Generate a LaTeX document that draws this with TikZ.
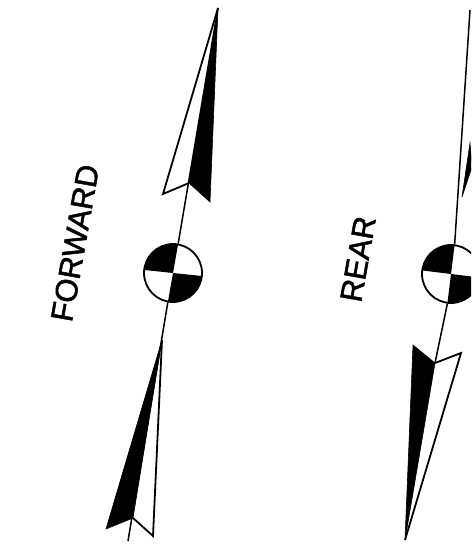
\documentclass[tikz,border=0pt]{standalone}
\usepackage{fontspec}
\setmainfont[FakeBold=1.6]{Liberation Sans}
\tikzset{
  px/.style={x=1pt,y=-1pt},
  axisline/.style={line width=1.5pt,black},
  outline/.style={line width=1.8pt,black,line join=miter,miter limit=3},
  solid fill/.style={fill=black,draw=black,line width=.6pt,line join=miter},
  ring/.style={circle,draw=black,line width=1.8pt,minimum size=58pt,inner sep=0pt},
  caption/.style={font=\fontsize{31}{34}\selectfont,inner sep=0pt,rotate=80},
}
\begin{document}
\begin{tikzpicture}[px]
\useasboundingbox (0,0) rectangle (471,545);
\clip (0,0) rectangle (471,545);
% left figure
\coordinate (tl) at (218,8);
\coordinate (bl) at (128,541);
\coordinate (ua) at (163,194);
\coordinate (un) at (189,183);
\coordinate (ub) at (210,202);
\coordinate (lt) at (162,340);
\coordinate (lb) at (106,529);
\coordinate (ln) at (133,518);
\coordinate (lw) at (153,536);
\node[ring] (cl) at (173,273) {};
\fill (cl.center) -- ++(-80:28.5) arc (-80:-174:28.5) -- cycle;
\fill (cl.center) -- ++(6:28.5) arc (6:100:28.5) -- cycle;
\draw[axisline] (tl) -- (cl.80);
\draw[axisline] (cl.260) -- (bl);
\draw[outline] (tl) -- (ua) -- (un);
\fill[solid fill] (tl) -- (un) -- (ub) -- cycle;
\draw[outline] (lt) -- (lw) -- (ln);
\fill[solid fill] (lt) -- (lb) -- (ln) -- cycle;
\node[caption] (fw) at (75,243) {FORWARD};
% right figure
\coordinate (tr) at (470,10);
\coordinate (ra) at (413,345);
\coordinate (rn) at (435,363);
\coordinate (rb) at (461,353);
\coordinate (rt) at (405,540);
\coordinate (ut) at (462,197);
\coordinate (uh) at (470,143);
\coordinate (us) at (472,167);
\node[ring] (cr) at (451,274) {};
\fill (cr.center) -- ++(-83:28.5) arc (-83:-173:28.5) -- cycle;
\fill (cr.center) -- ++(7:28.5) arc (7:97:28.5) -- cycle;
\draw[axisline] (tr) -- (cr.83);
\draw[axisline] (cr.263) -- (rn);
\fill[solid fill] (ut) -- (uh) -- (us) -- cycle;
\draw[outline] (rt) -- (rb) -- (rn);
\fill[solid fill] (rt) -- (ra) -- (rn) -- cycle;
\node[caption] (re) at (358,259) {REAR};
\end{tikzpicture}
\end{document}
